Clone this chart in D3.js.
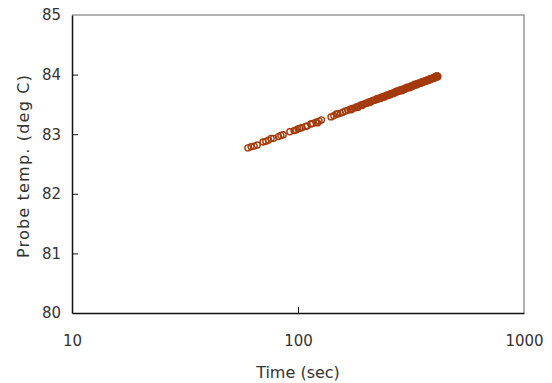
<!DOCTYPE html>
<html>
<head>
<meta charset="utf-8">
<script src="https://cdn.jsdelivr.net/npm/d3@7"></script>
<style>
	body { margin: 0; background: #fff; }
	text { font-family: "DejaVu Sans", sans-serif; fill: #333; }
</style>
</head>
<body>
<div class="plot"></div>
<script>
//Data: time (sec), probe temperature (deg C)
const timeSec = [
	60, 62, 64, 66, 70, 72, 74, 76, 78, 82, 84, 86, 92, 96, 98, 100, 102, 104, 108, 110,
	114, 116, 120, 122, 124, 127,
	140, 144, 148, 150, 154, 158, 162, 166, 170, 172, 174, 178, 182, 184, 186, 190, 192, 194,
	198, 200, 202, 206, 208, 210, 214, 216, 218, 222, 224, 226, 230, 232, 234, 238, 240, 242,
	246, 248, 250, 254, 256, 258, 262, 264, 266, 270, 272, 274, 278, 280, 282, 286, 288, 290,
	294, 296, 298, 302, 304, 306, 310, 312, 314, 318, 320, 322, 326, 328, 330, 334, 336, 338,
	342, 344, 346, 350, 352, 354, 358, 360, 362, 366, 368, 370, 374, 376, 378, 382, 384, 386,
	390, 392, 394, 398, 400, 402, 406, 408, 410, 412, 414, 416
];
const probeTemp = [
	82.77, 82.79, 82.80, 82.82, 82.87, 82.88, 82.90, 82.93, 82.93, 82.96, 82.98, 82.99, 83.04, 83.06, 83.07, 83.09, 83.10, 83.11, 83.13, 83.14,
	83.17, 83.18, 83.20, 83.19, 83.22, 83.24,
	83.29, 83.31, 83.34, 83.34, 83.35, 83.37, 83.39, 83.40, 83.42, 83.41, 83.43, 83.44, 83.46, 83.45, 83.47, 83.49, 83.48, 83.50,
	83.51, 83.52, 83.52, 83.54, 83.53, 83.55, 83.56, 83.57, 83.57, 83.58, 83.60, 83.59, 83.61, 83.60, 83.62, 83.63, 83.62, 83.64,
	83.64, 83.66, 83.65, 83.67, 83.66, 83.68, 83.69, 83.68, 83.70, 83.70, 83.72, 83.71, 83.73, 83.72, 83.74, 83.75, 83.73, 83.74,
	83.76, 83.75, 83.77, 83.77, 83.79, 83.78, 83.79, 83.78, 83.80, 83.81, 83.80, 83.82, 83.82, 83.84, 83.82, 83.84, 83.83, 83.85,
	83.85, 83.86, 83.85, 83.87, 83.86, 83.88, 83.87, 83.89, 83.88, 83.89, 83.90, 83.89, 83.91, 83.90, 83.92, 83.91, 83.93, 83.92,
	83.93, 83.94, 83.93, 83.95, 83.94, 83.96, 83.95, 83.97, 83.96, 83.98, 83.96, 83.97
];
const xTicks = [10, 100, 1000];
const yTicks = [80, 81, 82, 83, 84, 85];

const data = timeSec.map((t, i) => ({t, temp: probeTemp[i]}));

//Prepare DOM canvas
const w = 552, h = 383;
const m = {l: 72, r: 28, t: 15, b: 70};
const svg = d3.select('.plot').append('svg').attr('width', w).attr('height', h);

const x = d3.scaleLog().domain([10, 1000]).range([m.l, w - m.r]);
const y = d3.scaleLinear().domain([80, 85]).range([h - m.b, m.t]);

//Frame: gray top/right, black left/bottom
svg.append('path')
	.attr('d', `M${x(10)},${y(85)}H${x(1000)}V${y(80)}`)
	.style('fill', 'none')
	.style('stroke', '#999')
	.style('stroke-width', 1.5);

const xAxis = svg.append('g')
	.attr('transform', `translate(0,${y(80)})`)
	.call(d3.axisBottom(x).tickValues(xTicks).tickFormat(d3.format('d')).tickSizeInner(-6).tickSizeOuter(0).tickPadding(22));
const yAxis = svg.append('g')
	.attr('transform', `translate(${x(10)},0)`)
	.call(d3.axisLeft(y).tickValues(yTicks).tickFormat(d3.format('d')).tickSizeInner(-6).tickSizeOuter(0).tickPadding(11));

[xAxis, yAxis].forEach(g => {
	g.select('.domain').style('stroke', '#111').style('stroke-width', 1.5);
	g.selectAll('.tick line').style('stroke', '#111');
	g.selectAll('text').style('font-size', '15px').style('font-family', '"DejaVu Sans", sans-serif').style('fill', '#333');
});
yAxis.selectAll('.tick').filter(d => d === 80 || d === 85).select('line').remove();
xAxis.selectAll('.tick').filter(d => d === 10 || d === 1000).select('line').remove();

//Points
svg.selectAll('.pt')
	.data(data)
	.enter()
	.append('circle')
	.attr('class', 'pt')
	.attr('cx', d => x(d.t))
	.attr('cy', d => y(d.temp))
	.attr('r', 3)
	.style('fill', 'none')
	.style('stroke', '#a43a0c')
	.style('stroke-width', 1.4);

//Axis titles
svg.append('text')
	.attr('x', x(100))
	.attr('y', 378)
	.attr('text-anchor', 'middle')
	.style('font-size', '16px')
	.text('Time (sec)');
svg.append('text')
	.attr('transform', `translate(29,${(y(80) + y(85)) / 2 + 2}) rotate(-90)`)
	.attr('text-anchor', 'middle')
	.style('font-size', '16px')
	.style('letter-spacing', '1.2px')
	.text('Probe temp. (deg C)');
</script>
</body>
</html>
